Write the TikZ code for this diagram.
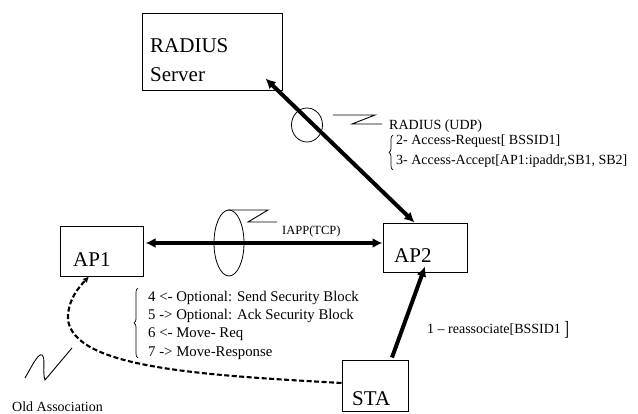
\documentclass[tikz,border=0pt]{standalone}
\usepackage{fontspec}
\setmainfont{Liberation Serif}
\usetikzlibrary{arrows.meta,shapes.geometric,decorations.pathreplacing,calc}

\begin{document}
\begin{tikzpicture}[x=1pt,y=-1pt,
  box/.style={draw, line width=1pt, inner sep=0pt},
  boxtext/.style={anchor=base west, inner sep=0pt, font=\fontsize{21}{21}\selectfont},
  note/.style={anchor=base west, inner sep=0pt, font=\fontsize{14}{14}\selectfont},
  stepnote/.style={anchor=base west, inner sep=0pt, font=\fontsize{14.8}{14.8}\selectfont},
  smallnote/.style={anchor=base west, inner sep=0pt, font=\fontsize{12.5}{12.5}\selectfont},
  ring/.style={ellipse, draw, line width=0.8pt, inner sep=0pt},
  squiggle/.style={line width=0.9pt},
  heavy/.style={line width=4pt},
  bigtip/.tip={Latex[length=10pt,width=10pt]},
  oldlink/.style={line width=2.1pt, dash pattern=on 5pt off 2.5pt},
  curly/.style={decorate, decoration={brace, amplitude=4pt}, line width=0.7pt}
]
\useasboundingbox (0,0) rectangle (638,414);

% boxes
\node[box, minimum width=140pt, minimum height=77pt] (rad) at (212,52.5) {};
\node[boxtext] (radtext) at (150,53) {RADIUS};
\node[boxtext] (srvtext) at (150,82) {Server};

\node[box, minimum width=83pt, minimum height=50pt] (ap1) at (101.5,252) {};
\node[boxtext] (ap1text) at (73,267) {AP1};

\node[box, minimum width=84pt, minimum height=49pt] (ap2) at (425,248.5) {};
\node[boxtext] (ap2text) at (394,263) {AP2};

\node[box, minimum width=66pt, minimum height=51pt] (sta) at (375,386.5) {};
\node[boxtext] (statext) at (352,406) {STA};

% protocol rings
\node[ring, minimum width=31pt, minimum height=34pt] (udpRing) at (307,125) {};
\node[ring, minimum width=30pt, minimum height=66pt] (tcpRing) at (229,243) {};

% links
\coordinate (radIn) at ($(rad.south east)+(-17,-13)$);
\coordinate (ap2Top) at ($(ap2.north west)+(32,-1)$);
\draw[heavy, bigtip-bigtip] (ap2Top) -- (radIn);

\coordinate (ap1Out) at ($(ap1.east)+(2,-9)$);
\coordinate (ap2In) at ($(ap2.west)+(0,-5.5)$);
\draw[heavy, bigtip-bigtip] (ap1Out) -- (ap2In);

\coordinate (staTop) at ($(sta.north)+(17,-3)$);
\coordinate (ap2Bot) at ($(ap2.south)+(0,-7)$);
\draw[heavy, -bigtip] (staTop) -- (ap2Bot);

\coordinate (staLeft) at ($(sta.west)+(0,-3.5)$);
\coordinate (ap1Bot) at ($(ap1.south)+(-12.5,-1)$);
\draw[oldlink, -{Latex[length=6pt,width=6pt]}] (staLeft)
  .. controls (200,375) and (75,368) .. (68,320)
  .. controls (67,300) and (80,286) .. (ap1Bot);

% squiggles
\draw[squiggle] (333,115) -- (375,115) -- (352,124) -- (382,124);
\draw[squiggle] (228,210) -- (268,210) -- (248,222) -- (277,222);
\draw[squiggle] (25,378) .. controls (32,366) and (38,353) .. (42,355)
  .. controls (46,358) and (42,372) .. (45,380) -- (72,348);

% labels
\node[note] (udp) at (389,130) {RADIUS (UDP)};
\draw[curly] (393,170) -- (393,135);
\node[note] (msg2) at (396,145) {2- Access-Request[ BSSID1]};
\node[note] (msg3) at (396,165) {3- Access-Accept[AP1:ipaddr,SB1, SB2]};

\node[smallnote] (iapp) at (282,235) {IAPP(TCP)};

\draw[curly] (138,358) -- (138,288);
\node[stepnote] (msg4) at (148,302) {4 <- Optional: Send Security Block};
\node[stepnote] (msg5) at (148,320) {5 -> Optional: Ack Security Block};
\node[stepnote] (msg6) at (148,338) {6 <- Move- Req};
\node[stepnote] (msg7) at (148,356) {7 -> Move-Response};

\node[note] (msg1) at (427,334) {1 – reassociate[BSSID1 \raisebox{-1.5pt}{\scalebox{1}[1.45]{]}}};

\node[note] (old) at (12,411) {Old Association};
\end{tikzpicture}
\end{document}
